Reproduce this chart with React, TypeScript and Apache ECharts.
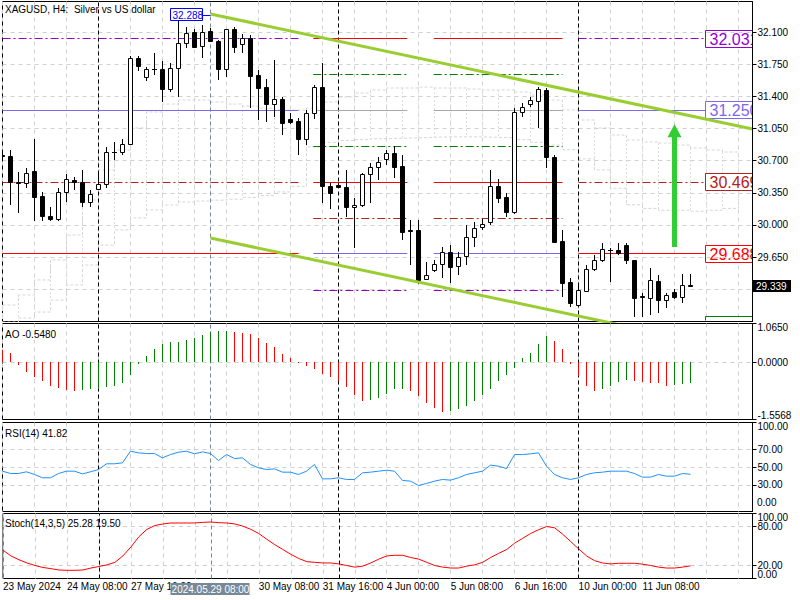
import React, { useEffect, useRef } from "react";
import * as echarts from "echarts";

const FONT = '"Liberation Sans", Arial, sans-serif';

// ---------- candles (H4 bars, index 0 = 23 May 2024 00:00) ----------
const OPEN = [
  30.76, 30.751, 30.47, 30.454, 30.588, 30.315, 30.097, 30.068, 30.356, 30.49,
  30.465, 30.246, 30.388, 30.443, 30.79, 30.792, 30.879, 31.817, 31.609, 31.7,
  31.696, 31.479, 31.707, 31.98, 32.107, 31.95, 32.114, 32.005, 31.696, 32.133,
  31.969, 32.035, 31.634, 31.5, 31.315, 31.37, 31.155, 31.133, 30.933, 31.217,
  31.5, 30.424, 30.44, 30.417, 30.192, 30.217, 30.555, 30.628, 30.716, 30.781,
  30.643, 29.94, 29.945, 29.414, 29.509, 29.57, 29.707, 29.555, 29.66, 29.871,
  29.98, 30.035, 30.424, 30.308, 30.145, 31.234, 31.315, 31.354, 31.471, 30.744,
  29.825, 29.374, 29.13, 29.283, 29.516, 29.618, 29.73, 29.727, 29.781, 29.618,
  29.225, 29.2, 29.392, 29.181, 29.264, 29.21, 29.345,
];
const HIGH = [
  30.8, 30.817, 30.578, 30.617, 30.937, 30.356, 30.199, 30.406, 30.555, 30.526,
  30.604, 30.381, 30.569, 30.853, 30.907, 30.937, 31.842, 31.842, 31.725, 31.871,
  31.787, 31.762, 32.288, 32.16, 32.14, 32.18, 32.147, 32.02, 32.14, 32.16,
  32.08, 32.07, 31.689, 31.588, 31.798, 31.391, 31.217, 31.162, 31.253, 31.525,
  31.762, 30.46, 30.46, 30.599, 30.29, 30.57, 30.672, 30.737, 30.817, 30.863,
  30.762, 30.054, 30.054, 29.599, 29.618, 29.763, 29.781, 29.707, 30.0, 30.035,
  30.07, 30.599, 30.497, 30.345, 31.27, 31.33, 31.398, 31.5, 31.49, 30.76,
  29.945, 29.418, 29.33, 29.563, 29.672, 29.8, 29.745, 29.8, 29.8, 29.62,
  29.26, 29.527, 29.45, 29.26, 29.3, 29.46, 29.46,
];
const LOW = [
  30.7, 30.217, 30.133, 30.406, 30.043, 30.043, 30.043, 30.043, 30.253, 30.381,
  30.192, 30.199, 30.381, 30.399, 30.708, 30.762, 30.868, 31.681, 31.572, 31.634,
  31.343, 31.452, 31.391, 31.925, 31.925, 31.817, 31.99, 31.58, 31.616, 31.871,
  31.871, 31.272, 31.144, 31.125, 31.18, 30.98, 31.1, 30.762, 30.871, 31.151,
  30.236, 30.17, 30.4, 30.09, 29.752, 30.2, 30.236, 30.49, 30.654, 30.508,
  29.836, 29.563, 29.36, 29.4, 29.49, 29.418, 29.363, 29.454, 29.563, 29.763,
  29.945, 29.999, 30.236, 30.09, 30.12, 31.18, 31.29, 31.053, 30.617, 29.8,
  29.218, 29.109, 29.12, 29.27, 29.5, 29.6, 29.38, 29.67, 29.574, 29.0,
  29.0, 29.02, 29.043, 29.09, 29.19, 29.152, 29.32,
];
const CLOSE = [
  30.75, 30.47, 30.455, 30.569, 30.308, 30.097, 30.068, 30.356, 30.498, 30.465,
  30.253, 30.337, 30.443, 30.792, 30.8, 30.879, 31.817, 31.736, 31.696, 31.705,
  31.479, 31.707, 31.98, 32.089, 31.943, 32.107, 32.008, 31.696, 32.133, 31.936,
  32.035, 31.627, 31.496, 31.315, 31.37, 31.114, 31.125, 30.933, 31.217, 31.5,
  30.424, 30.351, 30.41, 30.192, 30.217, 30.555, 30.628, 30.683, 30.781, 30.635,
  29.926, 29.93, 29.4, 29.45, 29.57, 29.707, 29.544, 29.653, 29.871, 29.963,
  30.01, 30.424, 30.297, 30.145, 31.234, 31.289, 31.362, 31.478, 30.744, 29.817,
  29.363, 29.152, 29.29, 29.516, 29.618, 29.734, 29.725, 29.69, 29.618, 29.2,
  29.215, 29.4, 29.181, 29.236, 29.21, 29.345, 29.339,
];

// ---------- indicators ----------
const AO = [
  0.35, 0.27, -0.06, -0.27, -0.39, -0.51, -0.63, -0.69, -0.75, -0.77,
  -0.76, -0.73, -0.72, -0.68, -0.64, -0.57, -0.33, -0.05, 0.18, 0.36,
  0.51, 0.56, 0.57, 0.61, 0.67, 0.74, 0.84, 0.85, 0.86, 0.83,
  0.81, 0.77, 0.66, 0.52, 0.41, 0.23, 0.12, -0.01, -0.09, -0.18,
  -0.32, -0.4, -0.5, -0.66, -0.9, -1.04, -1.02, -0.97, -0.87, -0.73,
  -0.72, -0.78, -0.92, -1.11, -1.24, -1.36, -1.33, -1.27, -1.19, -1.04,
  -0.9, -0.72, -0.5, -0.33, -0.15, 0.12, 0.26, 0.51, 0.72, 0.6,
  0.36, -0.03, -0.38, -0.63, -0.77, -0.72, -0.63, -0.52, -0.48, -0.5,
  -0.54, -0.55, -0.57, -0.63, -0.62, -0.6, -0.548,
];
const RSI = [
  45.3, 42.7, 42.7, 44.6, 41.6, 37.9, 37.9, 42.7, 45.3, 45.3,
  42.3, 44.6, 47.2, 53.6, 53.6, 54.7, 67.8, 65.9, 65.1, 65.1,
  60.3, 64.0, 66.6, 67.8, 64.8, 67.0, 65.1, 57.3, 64.0, 59.5,
  60.3, 52.8, 49.1, 47.2, 47.9, 44.2, 44.2, 41.6, 45.3, 52.8,
  36.7, 36.7, 37.9, 36.0, 36.0, 43.5, 44.2, 45.3, 46.4, 45.3,
  34.9, 34.1, 29.3, 31.5, 34.1, 36.0, 35.2, 37.9, 41.6, 43.5,
  45.3, 52.1, 50.9, 48.3, 64.0, 64.0, 64.8, 65.9, 50.9, 41.6,
  37.9, 36.0, 37.9, 41.6, 43.5, 44.2, 45.3, 45.3, 45.3, 42.7,
  38.6, 38.6, 41.6, 39.7, 39.7, 42.7, 41.82,
];
const STOCH = [
  43.6, 34.7, 28.8, 23.9, 20.0, 17.0, 15.1, 13.1, 12.6, 12.6,
  13.1, 16.1, 18.5, 21.0, 24.9, 34.7, 48.5, 64.3, 75.6, 81.5,
  83.9, 85.4, 85.4, 85.4, 85.4, 86.4, 86.9, 85.9, 85.4, 83.9,
  80.5, 75.6, 69.2, 60.3, 52.0, 44.6, 37.2, 30.8, 25.9, 24.9,
  23.9, 23.9, 22.4, 20.0, 17.5, 19.0, 23.9, 29.8, 34.7, 35.7,
  35.7, 32.3, 29.8, 24.9, 20.0, 17.5, 16.1, 16.1, 19.0, 21.0,
  24.9, 32.3, 38.7, 44.6, 54.4, 61.8, 69.2, 75.1, 80.0, 78.0,
  68.2, 56.9, 45.6, 34.7, 27.4, 23.9, 22.4, 23.4, 23.4, 23.4,
  22.0, 20.0, 17.5, 16.1, 16.1, 17.5, 19.5,
];

// ---------- ichimoku-like cloud (every 2 bars) ----------
const CLOUD_BARS = [
  0, 2, 4, 6, 8, 10, 12, 14, 16, 18, 20, 22, 24, 26, 28, 30, 32, 34, 36, 38, 40, 42, 44, 46,
  48, 50, 52, 54, 56, 58, 60, 62, 64, 66, 68, 70, 72, 74, 76, 78, 80, 82, 84, 86, 88, 90, 92,
];
const CLOUD_UPPER = [
  29.127, 29.236, 29.4, 29.618, 29.89, 30.272, 30.599, 30.817, 31.057, 31.231, 31.318, 31.362,
  31.362, 31.34, 31.318, 31.296, 31.274, 31.253, 31.253, 31.274, 31.34, 31.395, 31.438, 31.471,
  31.493, 31.493, 31.503, 31.493, 31.493, 31.482, 31.471, 31.471, 31.449, 31.416, 31.362, 31.253,
  31.144, 31.057, 30.98, 30.926, 30.904, 30.893, 30.871, 30.839, 30.817, 30.795, 30.762,
];
const CLOUD_LOWER = [
  28.94, 28.985, 29.05, 29.18, 29.345, 29.563, 29.78, 29.945, 30.076, 30.163, 30.217, 30.25,
  30.26, 30.27, 30.28, 30.3, 30.32, 30.36, 30.42, 30.85, 30.9, 30.92, 30.93, 30.94,
  30.945, 30.95, 30.955, 30.96, 30.96, 30.96, 30.955, 30.95, 30.93, 30.9, 30.87, 30.82,
  30.72, 30.6, 30.4, 30.22, 30.18, 30.16, 30.16, 30.15, 30.16, 30.18, 30.2,
];

// ---------- price levels (Murrey-style) ----------
const MM_WIDE_PRICES = [32.031, 31.25, 30.469, 29.688];
const MM_WIDE_COLORS = ["#9400d3", "#7b68ee", "#b22222", "#ff0000"];
const MM_WIDE_DASH = ["dashdot", "solid", "dashdot", "solid"];
const MM_WIDE_BELOW = 28.906;
const MM_NARROW_PRICES = [32.031, 31.642, 31.25, 30.857, 30.469, 30.072, 29.688, 29.29];
const MM_NARROW_COLORS = ["#ff0000", "#008000", "#a9a9a9", "#008000", "#ff0000", "#b22222", "#7b68ee", "#9400d3"];
const MM_NARROW_DASH = ["solid", "dashdot", "solid", "dashdot", "solid", "dashdot", "solid", "dashdot"];
const WEEK_FROM = [0, 38.85, 53.9, 72];
const WEEK_TO = [37, 50.6, 70, 87.9];
const WEEK_KIND = ["wide", "narrow", "narrow", "wide"];

// ---------- channel ----------
const TREND_BARS = [26, 93.75];
const TREND_UPPER = [32.3, 31.046];
const TREND_LOWER = [29.858, 28.604];

// ---------- axes ----------
const X_MAX = 93.75;
const PRICE_MIN = 28.947;
const PRICE_MAX = 32.436;
const PRICE_TICKS = [29.3, 29.65, 30.0, 30.35, 30.7, 31.05, 31.4, 31.75, 32.1];
const PRICE_LABELS = [29.65, 30.0, 30.35, 30.7, 31.05, 31.4, 31.75, 32.1];
const AO_MIN = -1.5568;
const AO_MAX = 1.065;
const AO_INNER = [0];
const AO_EDGES = [-1.5568, 1.065];
const RSI_INNER = [30, 50, 70];
const RSI_TOP = [100];
const RSI_BOTTOM_TEXT = "0.00";
const STOCH_INNER = [20, 80];
const STOCH_EDGES = [0, 100];
const TIME_TICK_BARS = [0, 8, 16, 32, 40, 48, 56, 64, 72, 80];
const TIME_TICK_TEXT = [
  "23 May 2024", "24 May 08:00", "27 May 16:00", "30 May 08:00", "31 May 16:00",
  "4 Jun 00:00", "5 Jun 08:00", "6 Jun 16:00", "10 Jun 00:00", "11 Jun 08:00",
];
const SEPARATOR_BARS = [12, 42, 72];
const CROSSHAIR_BAR = 26;
const CROSSHAIR_TEXT = "2024.05.29 08:00";
const HIGH_MARK = 32.288;
const LAST_PRICE = 29.339;
const ARROW_BAR = 84;
const ARROW_FROM = 29.759;
const ARROW_TO = 31.099;

const GRID_COLOR = "#d0d0d0";
const GRIDS = [
  { top: 1.5, height: 320 },
  { top: 323.5, height: 96 },
  { top: 422.5, height: 89 },
  { top: 513.5, height: 65 },
];

function guideSeries(g: number, hValues: number[]) {
  const data: any[] = [];
  hValues.forEach((v) => data.push({ yAxis: v, lineStyle: { color: GRID_COLOR, type: [4, 4], width: 1 } }));
  SEPARATOR_BARS.forEach((b) => data.push({ xAxis: b, lineStyle: { color: "#000", type: [4, 3], width: 1 } }));
  data.push({ xAxis: CROSSHAIR_BAR, lineStyle: { color: "#778899", type: [4, 3], width: 1 } });
  return {
    type: "line",
    xAxisIndex: g,
    yAxisIndex: g,
    data: [],
    silent: true,
    z: 1,
    markLine: { silent: true, symbol: ["none", "none"], label: { show: false }, animation: false, data },
  };
}

function buildOption(): any {
  const grid = GRIDS.map((g) => ({
    left: 2.5,
    top: g.top,
    width: 750,
    height: g.height,
    show: true,
    borderColor: "#000",
    borderWidth: 1,
    backgroundColor: "transparent",
  }));
  const xAxis = GRIDS.map((_, g) => ({
    type: "value",
    gridIndex: g,
    min: 0,
    max: X_MAX,
    interval: 4,
    axisLine: { show: false, onZero: false },
    axisTick: { show: false },
    splitLine: { show: true, lineStyle: { color: GRID_COLOR, type: [4, 4], width: 1 } },
    axisLabel: {
      show: g === 3,
      margin: 3,
      align: "left",
      fontSize: 10,
      fontFamily: FONT,
      color: "#000",
      showMinLabel: true,
      showMaxLabel: false,
      formatter: (v: number) => {
        const k = TIME_TICK_BARS.indexOf(v);
        return k >= 0 ? TIME_TICK_TEXT[k] : "";
      },
    },
  }));
  const yAxisOf = (g: number, min: number, max: number, labels: number[], digits: number, mode: string) => ({
    type: "value",
    gridIndex: g,
    position: "right",
    offset: 0,
    min,
    max,
    z: 10,
    axisLine: { show: true, onZero: false, lineStyle: { color: "#000", width: 1 } },
    axisTick: { show: true, length: 4, lineStyle: { color: "#000" }, customValues: labels },
    splitLine: { show: false },
    axisLabel: {
      customValues: labels,
      margin: 5,
      fontSize: 10,
      lineHeight: 8,
      fontFamily: FONT,
      color: "#000",
      showMinLabel: true,
      showMaxLabel: true,
      hideOverlap: false,
      ...(mode === "edge" ? { verticalAlignMaxLabel: "top", verticalAlignMinLabel: "bottom" } : {}),
      ...(mode === "top" ? { verticalAlign: "top" } : {}),
      formatter: (v: number) => v.toFixed(digits),
    },
  });
  const yAxis = [
    { ...yAxisOf(0, PRICE_MIN, PRICE_MAX, PRICE_LABELS, 3, "none"), axisTick: { show: true, length: 4, lineStyle: { color: "#000" }, customValues: PRICE_TICKS } },
    yAxisOf(1, AO_MIN, AO_MAX, AO_INNER, 4, "none"),
    yAxisOf(2, 0, 100, RSI_INNER, 2, "none"),
    yAxisOf(3, 0, 100, STOCH_INNER, 2, "none"),
    yAxisOf(1, AO_MIN, AO_MAX, AO_EDGES, 4, "edge"),
    yAxisOf(2, 0, 100, RSI_TOP, 2, "top"),
    yAxisOf(3, 0, 100, STOCH_EDGES, 2, "edge"),
  ];

  const levelData: any[] = [];
  WEEK_FROM.forEach((from, w) => {
    const to = WEEK_TO[w];
    const wide = WEEK_KIND[w] === "wide";
    const prices = wide ? MM_WIDE_PRICES : MM_NARROW_PRICES;
    const colors = wide ? MM_WIDE_COLORS : MM_NARROW_COLORS;
    const dash = wide ? MM_WIDE_DASH : MM_NARROW_DASH;
    prices.forEach((p, k) => {
      levelData.push([
        { coord: [from, p], lineStyle: { color: colors[k], width: 1, type: dash[k] === "dashdot" ? [8, 3, 2, 3] : "solid" } },
        { coord: [to, p] },
      ]);
    });
  });

  const candleData = OPEN.map((o, i) => [i, o, HIGH[i], LOW[i], CLOSE[i]]);
  const cloudData = CLOUD_BARS.map((b, k) => [b, CLOUD_UPPER[k], CLOUD_LOWER[k]]);

  const series: any[] = [
    guideSeries(0, PRICE_TICKS),
    {
      type: "custom",
      xAxisIndex: 0,
      yAxisIndex: 0,
      z: 1,
      silent: true,
      clip: true,
      data: cloudData,
      encode: { x: 0, y: [1, 2] },
      renderItem: (_p: any, api: any) => {
        const b = api.value(0);
        const a = api.coord([b, api.value(1)]);
        const c = api.coord([b, api.value(2)]);
        const x = Math.floor(a[0]) + 0.5;
        return {
          type: "line",
          shape: { x1: x, y1: a[1], x2: x, y2: c[1] },
          style: { stroke: "#dedede", lineWidth: 1, lineDash: [2, 2] },
        };
      },
    },
    {
      type: "line",
      xAxisIndex: 0,
      yAxisIndex: 0,
      z: 1,
      silent: true,
      step: "end",
      symbol: "none",
      data: CLOUD_BARS.map((b, k) => [b, CLOUD_UPPER[k]]),
      lineStyle: { color: "#d6d6d6", width: 1, type: [3, 2] },
    },
    {
      type: "line",
      xAxisIndex: 0,
      yAxisIndex: 0,
      z: 1,
      silent: true,
      step: "end",
      symbol: "none",
      data: CLOUD_BARS.map((b, k) => [b, CLOUD_LOWER[k]]),
      lineStyle: { color: "#d6d6d6", width: 1, type: [3, 2] },
    },
    {
      type: "line",
      xAxisIndex: 0,
      yAxisIndex: 0,
      data: [],
      z: 3,
      silent: true,
      markLine: { silent: true, symbol: ["none", "none"], label: { show: false }, animation: false, data: levelData },
    },
    {
      type: "custom",
      xAxisIndex: 0,
      yAxisIndex: 0,
      z: 5,
      clip: true,
      data: candleData,
      encode: { x: 0, y: [1, 2, 3, 4] },
      renderItem: (_p: any, api: any) => {
        const i = api.value(0);
        const o = api.value(1), h = api.value(2), l = api.value(3), c = api.value(4);
        const po = api.coord([i, o]);
        const yc = api.coord([i, c])[1];
        const yh = api.coord([i, h])[1];
        const yl = api.coord([i, l])[1];
        const x = Math.floor(po[0]) + 0.5;
        const top = Math.round(Math.min(po[1], yc));
        const bot = Math.round(Math.max(po[1], yc));
        const children: any[] = [
          { type: "line", shape: { x1: x, y1: Math.round(yh), x2: x, y2: Math.round(yl) }, style: { stroke: "#000", lineWidth: 1 } },
        ];
        if (bot - top < 1) {
          children.push({ type: "line", shape: { x1: x - 2.5, y1: top + 0.5, x2: x + 2.5, y2: top + 0.5 }, style: { stroke: "#000", lineWidth: 1 } });
        } else {
          children.push({
            type: "rect",
            shape: { x: x - 2, y: top + 0.5, width: 4, height: bot - top },
            style: { fill: c > o ? "#fff" : "#000", stroke: "#000", lineWidth: 1 },
          });
        }
        return { type: "group", children };
      },
    },
    {
      type: "line",
      xAxisIndex: 0,
      yAxisIndex: 0,
      z: 6,
      silent: true,
      symbol: "none",
      data: TREND_BARS.map((b, k) => [b, TREND_UPPER[k]]),
      lineStyle: { color: "#9acd32", width: 3 },
    },
    {
      type: "line",
      xAxisIndex: 0,
      yAxisIndex: 0,
      z: 6,
      silent: true,
      symbol: "none",
      data: TREND_BARS.map((b, k) => [b, TREND_LOWER[k]]),
      lineStyle: { color: "#9acd32", width: 3 },
    },
    // AO
    guideSeries(1, AO_INNER),
    {
      type: "custom",
      xAxisIndex: 1,
      yAxisIndex: 1,
      z: 5,
      clip: true,
      data: AO.map((v, i) => [i, v]),
      encode: { x: 0, y: 1 },
      renderItem: (_p: any, api: any) => {
        const i = api.value(0);
        const v = api.value(1);
        const prev = i > 0 ? AO[i - 1] : v + 1;
        const p0 = api.coord([i, 0]);
        const p1 = api.coord([i, v]);
        const x = Math.floor(p0[0]) + 0.5;
        return {
          type: "line",
          shape: { x1: x, y1: Math.round(p0[1]), x2: x, y2: Math.round(p1[1]) },
          style: { stroke: v > prev ? "#008000" : "#ff0000", lineWidth: 1 },
        };
      },
    },
    // RSI
    guideSeries(2, RSI_INNER),
    {
      type: "line",
      xAxisIndex: 2,
      yAxisIndex: 2,
      z: 5,
      symbol: "none",
      data: RSI.map((v, i) => [i, v]),
      lineStyle: { color: "#1e90ff", width: 1 },
    },
    // Stochastic
    guideSeries(3, STOCH_INNER),
    {
      type: "line",
      xAxisIndex: 3,
      yAxisIndex: 3,
      z: 5,
      symbol: "none",
      data: STOCH.map((v, i) => [i, v]),
      lineStyle: { color: "#ff0000", width: 1 },
    },
  ];

  return {
    animation: false,
    backgroundColor: "#fff",
    textStyle: { fontFamily: FONT },
    grid,
    xAxis,
    yAxis,
    series,
  };
}

function buildGraphic(chart: any): any[] {
  const px = (g: number, x: number, y: number) =>
    chart.convertToPixel({ xAxisIndex: g, yAxisIndex: g }, [x, y]) as number[];
  const els: any[] = [];
  const text = (x: number, y: number, t: string, fill = "#000", size = 10, extra: any = {}) => ({
    type: "text",
    x,
    y,
    z: 20,
    silent: true,
    style: { text: t, fill, fontSize: size, fontFamily: FONT, verticalAlign: "middle", align: "left", ...extra },
  });

  els.push(text(5, 9, "XAGUSD, H4:  Silver vs US dollar"));
  els.push(text(5, 334, "AO -0.5480"));
  els.push(text(5, 433, "RSI(14) 41.82"));
  els.push(text(5, 523, "Stoch(14,3,5) 25.28 19.50"));

  // RSI bottom scale label, just above the pane's bottom edge as the terminal draws it
  {
    const rsiBottom = GRIDS[2].top + GRIDS[2].height;
    els.push({
      type: "text",
      x: 757,
      y: rsiBottom - 9,
      z: 30,
      silent: true,
      style: { text: RSI_BOTTOM_TEXT, fill: "#000", fontSize: 10, fontFamily: FONT, verticalAlign: "middle", align: "left" },
    });
  }

  // cover right of the main pane so level boxes appear clipped by the axis
  els.push({ type: "rect", z: 4, silent: true, shape: { x: 753, y: 0, width: 47, height: 322 }, style: { fill: "#fff" } });

  const lastWeek = WEEK_FROM.length - 1;
  const boxX = Math.floor(px(0, WEEK_TO[lastWeek], PRICE_MIN)[0]) + 0.5;
  MM_WIDE_PRICES.forEach((p, k) => {
    const yc = Math.round(px(0, WEEK_TO[lastWeek], p)[1]);
    els.push({
      type: "rect",
      z: 3,
      silent: true,
      shape: { x: boxX, y: yc - 8.5, width: 70, height: 17 },
      style: { fill: "#fff", stroke: MM_WIDE_COLORS[k], lineWidth: 1 },
    });
    els.push({ ...text(boxX + 4, yc + 0.5, p.toFixed(3), MM_WIDE_COLORS[k], 16), z: 3 });
  });
  {
    const yc = Math.round(px(0, WEEK_TO[lastWeek], MM_WIDE_BELOW)[1]);
    const bottom = GRIDS[0].top + GRIDS[0].height - 1;
    els.push({
      type: "polyline",
      z: 3,
      silent: true,
      shape: { points: [[boxX, bottom], [boxX, yc - 8.5], [boxX + 70, yc - 8.5]] },
      style: { stroke: "#008000", lineWidth: 1, fill: null },
    });
  }

  // current price tag
  {
    const yc = Math.round(px(0, 86, LAST_PRICE)[1]);
    els.push({ type: "rect", z: 20, silent: true, shape: { x: 753, y: yc - 6, width: 38, height: 12 }, style: { fill: "#000" } });
    els.push(text(756, yc + 0.5, LAST_PRICE.toFixed(3), "#fff", 10));
  }

  // high label
  {
    const p = px(0, CROSSHAIR_BAR, HIGH_MARK);
    const x = Math.floor(p[0]) + 0.5;
    const y = Math.round(p[1]);
    els.push({ type: "rect", z: 20, silent: true, shape: { x: x - 40, y: y - 6.5, width: 32, height: 12 }, style: { fill: "#fff", stroke: "#0000ff", lineWidth: 1 } });
    els.push(text(x - 38, y, HIGH_MARK.toFixed(3), "#0000ff", 10));
    els.push({ type: "line", z: 20, silent: true, shape: { x1: x - 8, y1: y + 0.5, x2: x, y2: y + 0.5 }, style: { stroke: "#0000ff", lineWidth: 1 } });
  }

  // green arrow
  {
    const b = px(0, ARROW_BAR, ARROW_FROM);
    const t = px(0, ARROW_BAR, ARROW_TO);
    const x = Math.floor(b[0]) + 0.5;
    els.push({ type: "line", z: 20, silent: true, shape: { x1: x, y1: b[1], x2: x, y2: t[1] + 12 }, style: { stroke: "#32cd32", lineWidth: 5 } });
    els.push({
      type: "polygon",
      z: 20,
      silent: true,
      shape: { points: [[x - 7, t[1] + 13], [x + 7, t[1] + 13], [x, t[1]]] },
      style: { fill: "#32cd32" },
    });
  }

  // crosshair time tag
  {
    const x = Math.floor(px(3, CROSSHAIR_BAR, 0)[0]) + 0.5;
    els.push({ type: "rect", z: 20, silent: true, shape: { x: x - 40, y: 583, width: 79, height: 12 }, style: { fill: "#778899" } });
    els.push(text(x, 589, CROSSHAIR_TEXT, "#fff", 10, { align: "center" }));
  }
  return els;
}

export default function App() {
  const ref = useRef<HTMLDivElement>(null);
  useEffect(() => {
    document.body.style.margin = "0";
    const chart = echarts.init(ref.current as HTMLDivElement, null, { renderer: "svg" });
    chart.setOption(buildOption());
    chart.setOption({ graphic: buildGraphic(chart) });
    return () => chart.dispose();
  }, []);
  return (
    <div
      ref={ref}
      style={{ position: "fixed", left: 0, top: 0, width: 800, height: 600, background: "#fff" }}
    />
  );
}
